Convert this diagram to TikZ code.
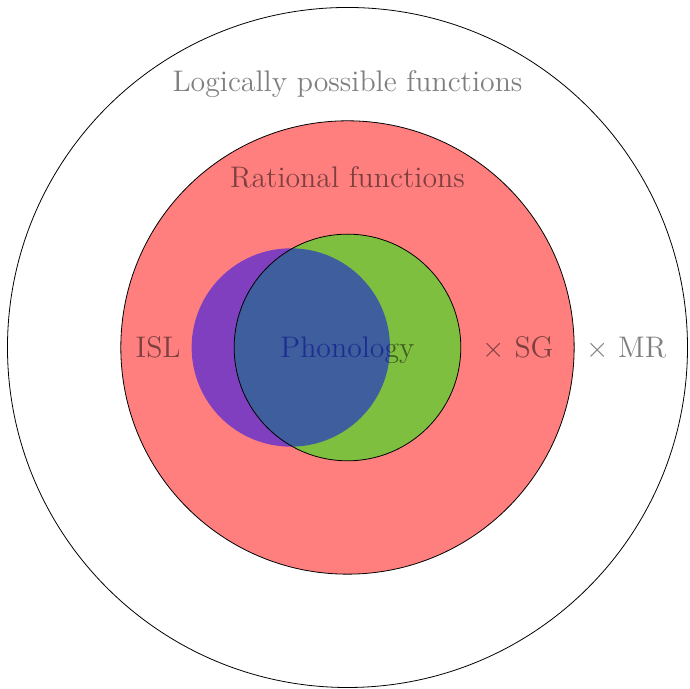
\documentclass[tikz,border=0pt]{standalone}
\usepackage{tikz}
\usetikzlibrary{positioning}

\begin{document}
\begin{tikzpicture}[
    lbl/.style={text opacity=0.5, anchor=base, inner sep=0pt, font=\fontsize{14.95}{17}\selectfont},
    region/.style={fill opacity=0.5}]
    \useasboundingbox (-6.132,-6.009) rectangle (6.044,6.132);
    \draw (0,0) circle (6);
    \draw[region, fill=red] (0,0) circle (4);
    \fill[region, green] (0,0) circle (2);
    \node[lbl] (logical) at (0,4.514) {Logically possible functions};
    \node[lbl] (rational) at (0,2.82) {Rational functions};
    \node[lbl] (isl) at (-3.34,-0.168) {ISL};
    \node[lbl] (phon) at (0,-0.168) {Phonology};
    \node[lbl] (sg) at (3.01,-0.168) {$\times$ SG};
    \node[lbl] (mr) at (4.92,-0.168) {$\times$ MR};
    \fill[region, blue] (-1,0) circle (1.75);
    \draw (0,0) circle (2);
\end{tikzpicture}
\end{document}
